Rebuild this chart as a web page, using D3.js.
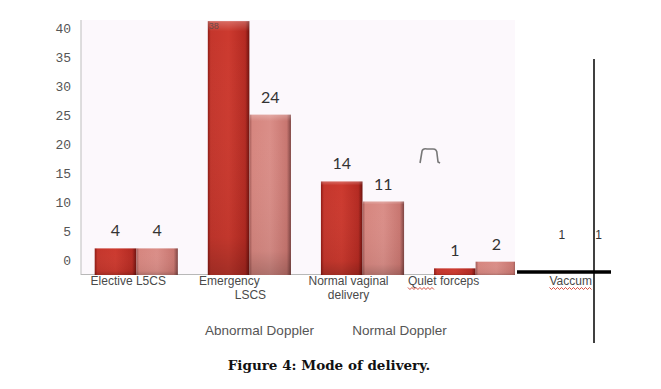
<!DOCTYPE html>
<html>
<head>
<meta charset="utf-8">
<script src="https://cdn.jsdelivr.net/npm/d3@7"></script>
<style>
  body { margin: 0; background: #fff; }
  svg { display: block; }
</style>
</head>
<body>
<div id="chart"></div>
<script>
// data
var categories = ["Elective L5CS", "Emergency LSCS", "Normal vaginal delivery", "Qulet forceps", "Vaccum"];
var catLines = [["Elective L5CS"], ["Emergency", "LSCS"], ["Normal vaginal", "delivery"], ["Qulet forceps"], ["Vaccum"]];
var abnormal = [4, 38, 14, 1, 1];
var normal = [4, 24, 11, 2, 1];
var seriesNames = ["Abnormal Doppler", "Normal Doppler"];
var yTicks = [0, 5, 10, 15, 20, 25, 30, 35, 40];

var width = 661, height = 389;

var svg = d3.select("#chart")
  .append("svg")
    .attr("width", width)
    .attr("height", height);

var defs = svg.append("defs");

function hGrad(id, stops) {
  var g = defs.append("linearGradient").attr("id", id)
    .attr("x1", "0%").attr("x2", "100%").attr("y1", "0%").attr("y2", "0%");
  stops.forEach(s => g.append("stop").attr("offset", s[0]).attr("stop-color", s[1]));
}
hGrad("darkRed", [["0%", "#8e1a14"], ["7%", "#c4362c"], ["50%", "#cc3a2f"], ["90%", "#b42a22"], ["100%", "#6e120e"]]);
hGrad("lightRed", [["0%", "#a25a56"], ["7%", "#d6867f"], ["50%", "#da8e88"], ["90%", "#c87670"], ["100%", "#7e4442"]]);

var shade = defs.append("linearGradient").attr("id", "shade")
  .attr("x1", "0%").attr("x2", "0%").attr("y1", "0%").attr("y2", "100%");
shade.append("stop").attr("offset", "0%").attr("stop-color", "#fff").attr("stop-opacity", 0.25);
shade.append("stop").attr("offset", "4%").attr("stop-color", "#fff").attr("stop-opacity", 0);
shade.append("stop").attr("offset", "85%").attr("stop-color", "#000").attr("stop-opacity", 0.05);
shade.append("stop").attr("offset", "100%").attr("stop-color", "#000").attr("stop-opacity", 0.2);

// plot area
var plotLeft = 81, plotRight = 515, plotTop = 20, base = 275;

defs.append("clipPath").attr("id", "plotClip")
  .append("rect")
    .attr("x", plotLeft).attr("y", 0)
    .attr("width", plotRight - plotLeft).attr("height", base + 1);

svg.append("rect")
  .attr("x", plotLeft).attr("y", plotTop)
  .attr("width", plotRight - plotLeft).attr("height", base - plotTop)
  .attr("fill", "#fcf8fc");

// scales
var x = d3.scaleBand()
  .domain(categories)
  .range([80, 645])
  .paddingInner(0.265)
  .paddingOuter(0.13);

var xSub = d3.scaleBand()
  .domain(seriesNames)
  .range([0, x.bandwidth()]);

var y = d3.scaleLinear()
  .domain([0, 40])
  .range([base, base - 40 * 6.68]);

// the tick labels sit on their own, shorter scale in the figure
var yLab = d3.scaleLinear()
  .domain([0, 40])
  .range([260, 28]);

var yAxis = svg.append("g")
  .attr("transform", "translate(" + (plotLeft - 10) + ",0)")
  .call(d3.axisLeft(yLab).tickValues(yTicks).tickSize(0).tickPadding(0));
yAxis.select(".domain").remove();
yAxis.selectAll("text")
  .attr("dy", "0.32em")
  .style("font-family", "'Liberation Mono', 'DejaVu Sans Mono', monospace")
  .style("font-size", "13px")
  .style("fill", "#555");

// axis lines
svg.append("line")
  .attr("x1", plotLeft).attr("x2", plotLeft)
  .attr("y1", plotTop).attr("y2", base)
  .attr("stroke", "#c8c8c8").attr("stroke-width", 1.2);
svg.append("line")
  .attr("x1", plotLeft).attr("x2", plotRight)
  .attr("y1", base - 0.5).attr("y2", base - 0.5)
  .attr("stroke", "#b8b8b8").attr("stroke-width", 1.2);

// bars
var rows = categories.map((c, i) => ({cat: c, vals: [abnormal[i], normal[i]]}));

var barG = svg.append("g").attr("clip-path", "url(#plotClip)");
var groups = barG.selectAll("g.grp")
  .data(rows)
  .enter()
  .append("g")
    .attr("class", "grp")
    .attr("transform", d => "translate(" + x(d.cat) + ",0)");

groups.selectAll("rect.bar")
  .data(d => d.vals.map((v, k) => ({k: k, v: v})))
  .enter()
  .append("rect")
    .attr("class", "bar")
    .attr("x", d => xSub(seriesNames[d.k]))
    .attr("y", d => y(d.v))
    .attr("width", xSub.bandwidth())
    .attr("height", d => base - y(d.v))
    .attr("fill", d => d.k === 0 ? "url(#darkRed)" : "url(#lightRed)");

groups.selectAll("rect.sh")
  .data(d => d.vals.map((v, k) => ({k: k, v: v})))
  .enter()
  .append("rect")
    .attr("class", "sh")
    .attr("x", d => xSub(seriesNames[d.k]))
    .attr("y", d => y(d.v))
    .attr("width", xSub.bandwidth())
    .attr("height", d => base - y(d.v))
    .attr("fill", "url(#shade)");

// value labels
var valG = svg.append("g");
rows.forEach((r, i) => {
  r.vals.forEach((v, k) => {
    var cx = x(r.cat) + xSub(seriesNames[k]) + xSub.bandwidth() / 2;
    if (r.cat === "Vaccum") {
      // bars cut off; labels left floating
      valG.append("text")
        .attr("x", cx - (k === 0 ? 6 : 11))
        .attr("y", 239)
        .attr("text-anchor", "middle")
        .style("font-family", "'Liberation Sans', Arial, sans-serif")
        .style("font-size", "12px")
        .style("fill", "#333")
        .text(v);
    } else if (y(v) - 12 < plotTop) {
      // top label squeezed into the bar
      valG.append("text")
        .attr("x", x(r.cat) + xSub(seriesNames[k]) + 1)
        .attr("y", y(v) + 8)
        .style("font-family", "'Liberation Sans', Arial, sans-serif")
        .style("font-size", "9px")
        .style("fill", "#6a4a48")
        .text(v);
    } else {
      valG.append("text")
        .attr("x", cx)
        .attr("y", y(v) - 12)
        .attr("text-anchor", "middle")
        .style("font-family", "Lato, 'Open Sans', sans-serif")
        .style("font-size", "16px")
        .style("fill", "#333")
        .text(v);
    }
  });
});

// category labels, slightly off-centre as in the figure
var labelShift = [[-8], [-20, 1], [-14, -14], [-32], [-18]];
var catG = svg.append("g")
  .style("font-family", "'Liberation Sans', Arial, sans-serif")
  .style("font-size", "12px")
  .style("fill", "#4a4a4a");

catLines.forEach((lines, i) => {
  var cx = x(categories[i]) + x.bandwidth() / 2;
  lines.forEach((ln, j) => {
    var t = catG.append("text")
      .attr("x", cx + labelShift[i][j])
      .attr("y", 285 + j * 14)
      .attr("text-anchor", "middle")
      .text(ln);
    // spell-check squiggle under the misspelt words
    if (ln === "Qulet forceps" || ln === "Vaccum") {
      var bb = t.node().getBBox();
      var w = ln === "Vaccum" ? bb.width : bb.width * 0.37;
      var pts = d3.range(0, w, 2).map((d, n) => [bb.x + d, bb.y + bb.height + (n % 2 ? 1.5 : -0.5)]);
      catG.append("path")
        .attr("d", d3.line()(pts))
        .attr("fill", "none")
        .attr("stroke", "#d23a2a")
        .attr("stroke-width", 0.9);
    }
  });
});

// legend names (no swatches in the figure)
svg.selectAll("text.leg")
  .data(seriesNames)
  .enter()
  .append("text")
    .attr("class", "leg")
    .attr("x", (d, i) => i === 0 ? 259.5 : 399.5)
    .attr("y", 335)
    .attr("text-anchor", "middle")
    .style("font-family", "'Liberation Sans', Arial, sans-serif")
    .style("font-size", "13.5px")
    .style("fill", "#555")
    .text(d => d);

// stray artifact above the forceps bars
var fx = x("Qulet forceps");
svg.append("path")
  .attr("d", "M" + (fx - 14) + ",163 L" + (fx - 12) + ",151 Q" + (fx - 11) + ",148 " + (fx - 7) + ",149 L" + (fx - 1) + ",149 Q" + (fx + 3) + ",149 " + (fx + 3) + ",154 L" + (fx + 4) + ",162 " + (fx + 6) + ",163")
  .attr("fill", "none")
  .attr("stroke", "#777")
  .attr("stroke-width", 1.6);

// leftover black lines on the right
svg.append("line")
  .attr("x1", plotRight + 2).attr("x2", 611)
  .attr("y1", 272).attr("y2", 272)
  .attr("stroke", "#000").attr("stroke-width", 3.5);
svg.append("line")
  .attr("x1", 594).attr("x2", 594)
  .attr("y1", 59).attr("y2", 343)
  .attr("stroke", "#000").attr("stroke-width", 1.5);

// caption
svg.append("text")
  .attr("x", 329)
  .attr("y", 370)
  .attr("text-anchor", "middle")
  .style("font-family", "'DejaVu Serif', 'Liberation Serif', serif")
  .style("font-weight", "bold")
  .style("font-size", "13.5px")
  .style("fill", "#111")
  .text("Figure 4: Mode of delivery.");
</script>
</body>
</html>
